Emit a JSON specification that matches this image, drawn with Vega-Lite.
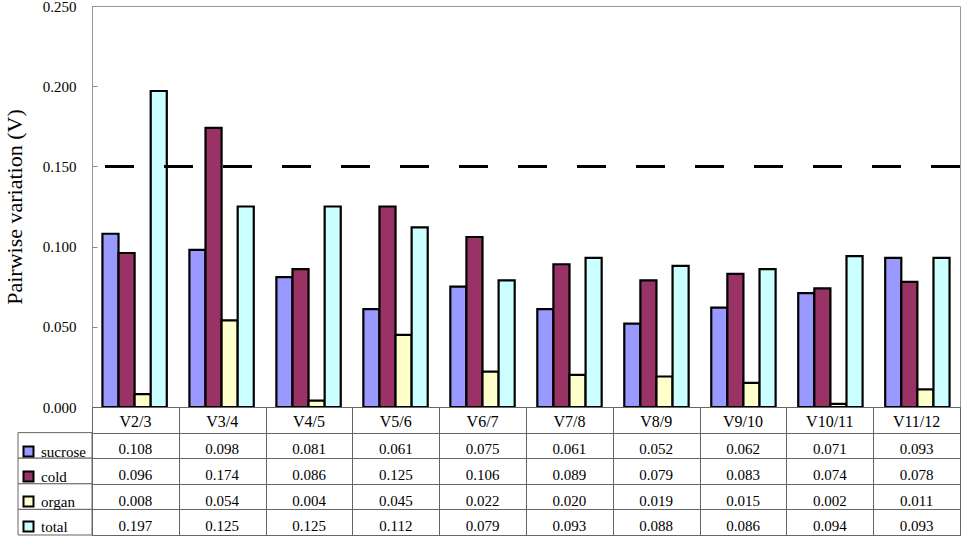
{
  "$schema": "https://vega.github.io/schema/vega-lite/v6.json",
  "background": "white",
  "padding": {"left": 2, "top": -2, "right": 0, "bottom": 0},
  "datasets": {
    "pv": [
      {"step": "V2/3", "sucrose": 0.108, "cold": 0.096, "organ": 0.008, "total": 0.197},
      {"step": "V3/4", "sucrose": 0.098, "cold": 0.174, "organ": 0.054, "total": 0.125},
      {"step": "V4/5", "sucrose": 0.081, "cold": 0.086, "organ": 0.004, "total": 0.125},
      {"step": "V5/6", "sucrose": 0.061, "cold": 0.125, "organ": 0.045, "total": 0.112},
      {"step": "V6/7", "sucrose": 0.075, "cold": 0.106, "organ": 0.022, "total": 0.079},
      {"step": "V7/8", "sucrose": 0.061, "cold": 0.089, "organ": 0.020, "total": 0.093},
      {"step": "V8/9", "sucrose": 0.052, "cold": 0.079, "organ": 0.019, "total": 0.088},
      {"step": "V9/10", "sucrose": 0.062, "cold": 0.083, "organ": 0.015, "total": 0.086},
      {"step": "V10/11", "sucrose": 0.071, "cold": 0.074, "organ": 0.002, "total": 0.094},
      {"step": "V11/12", "sucrose": 0.093, "cold": 0.078, "organ": 0.011, "total": 0.093}
    ]
  },
  "columns": 2,
  "spacing": 0,
  "bounds": "flush",
  "align": "each",
  "resolve": {"scale": {"x": "independent", "y": "independent"}},
  "concat": [
    {
      "width": 74,
      "height": 401,
      "data": {"values": []},
      "mark": "text"
    },
    {
      "width": 868,
      "height": 401,
      "view": {"stroke": "#999999"},
      "data": {"name": "pv"},
      "layer": [
        {
          "transform": [{"fold": ["sucrose", "cold", "organ", "total"], "as": ["series", "v"]}],
          "mark": {"type": "bar", "stroke": "black", "strokeWidth": 2.2},
          "encoding": {
            "x": {
              "field": "step",
              "type": "nominal",
              "sort": null,
              "scale": {"paddingInner": 0.26, "paddingOuter": 0.12},
              "axis": null
            },
            "xOffset": {
              "field": "series",
              "type": "nominal",
              "scale": {"domain": ["sucrose", "cold", "organ", "total"], "paddingInner": 0, "paddingOuter": 0}
            },
            "y": {
              "field": "v",
              "type": "quantitative",
              "scale": {"domain": [0, 0.25], "nice": false},
              "axis": {
                "title": "Pairwise variation (V)",
                "values": [0, 0.05, 0.1, 0.15, 0.2, 0.25],
                "format": ".3f",
                "grid": false,
                "domain": false,
                "tickSize": -5,
                "tickColor": "#888888",
                "labelPadding": 21,
                "labelFontSize": 15,
                "titleFontSize": 22,
                "titleFontWeight": "normal",
                "titlePadding": 16
              }
            },
            "color": {
              "field": "series",
              "type": "nominal",
              "scale": {
                "domain": ["sucrose", "cold", "organ", "total"],
                "range": ["#9999FF", "#993366", "#FFFFCC", "#CCFFFF"]
              },
              "legend": {
                "title": null,
                "orient": "none",
                "legendX": 3,
                "legendY": 438,
                "symbolType": "square",
                "symbolSize": 100,
                "symbolStrokeColor": "black",
                "symbolStrokeWidth": 2,
                "labelFontSize": 15,
                "labelOffset": 5,
                "rowPadding": 6
              }
            }
          }
        },
        {
          "mark": {"type": "rule", "color": "black", "strokeWidth": 2, "strokeDash": [29, 30]},
          "encoding": {"y": {"datum": 0.15}}
        }
      ]
    },
    {
      "width": 74,
      "height": 128,
      "data": {"name": "pv"},
      "transform": [
        {"fold": ["sucrose", "cold", "organ", "total"], "as": ["series", "v"]},
        {"aggregate": [{"op": "count", "as": "n"}], "groupby": ["series"]}
      ],
      "mark": {"type": "rect", "fill": "white", "stroke": "#666666", "strokeWidth": 1},
      "encoding": {
        "y": {
          "field": "series",
          "type": "nominal",
          "scale": {"domain": ["hdr", "sucrose", "cold", "organ", "total"], "paddingInner": 0, "paddingOuter": 0},
          "axis": null
        }
      }
    },
    {
      "width": 868,
      "height": 128,
      "view": {"stroke": "#666666"},
      "data": {"name": "pv"},
      "encoding": {
        "x": {
          "field": "step",
          "type": "nominal",
          "sort": null,
          "scale": {"paddingInner": 0, "paddingOuter": 0},
          "axis": {
            "labels": false,
            "ticks": false,
            "domain": false,
            "title": null,
            "grid": true,
            "tickBand": "extent",
            "gridColor": "#666666",
            "gridOpacity": 1
          }
        }
      },
      "layer": [
        {
          "transform": [{"fold": ["sucrose", "cold", "organ", "total"], "as": ["series", "v"]}],
          "mark": {"type": "text", "fontSize": 15, "dy": 4},
          "encoding": {
            "y": {
              "field": "series",
              "type": "nominal",
              "scale": {"domain": ["hdr", "sucrose", "cold", "organ", "total"], "paddingInner": 0, "paddingOuter": 0},
              "axis": {
                "labels": false,
                "ticks": false,
                "domain": false,
                "title": null,
                "grid": true,
                "tickBand": "extent",
                "gridColor": "#666666",
                "gridOpacity": 1
              }
            },
            "text": {"field": "v", "type": "quantitative", "format": ".3f"}
          }
        },
        {
          "mark": {"type": "text", "fontSize": 16, "dy": 2},
          "encoding": {
            "y": {"datum": "hdr"},
            "text": {"field": "step", "type": "nominal"}
          }
        }
      ]
    }
  ],
  "config": {
    "font": "Liberation Serif",
    "view": {"stroke": null},
    "axis": {"labelColor": "black", "titleColor": "black", "labelFont": "Liberation Serif", "titleFont": "Liberation Serif"},
    "legend": {"labelColor": "black", "labelFont": "Liberation Serif"},
    "text": {"font": "Liberation Serif", "color": "black"}
  }
}
